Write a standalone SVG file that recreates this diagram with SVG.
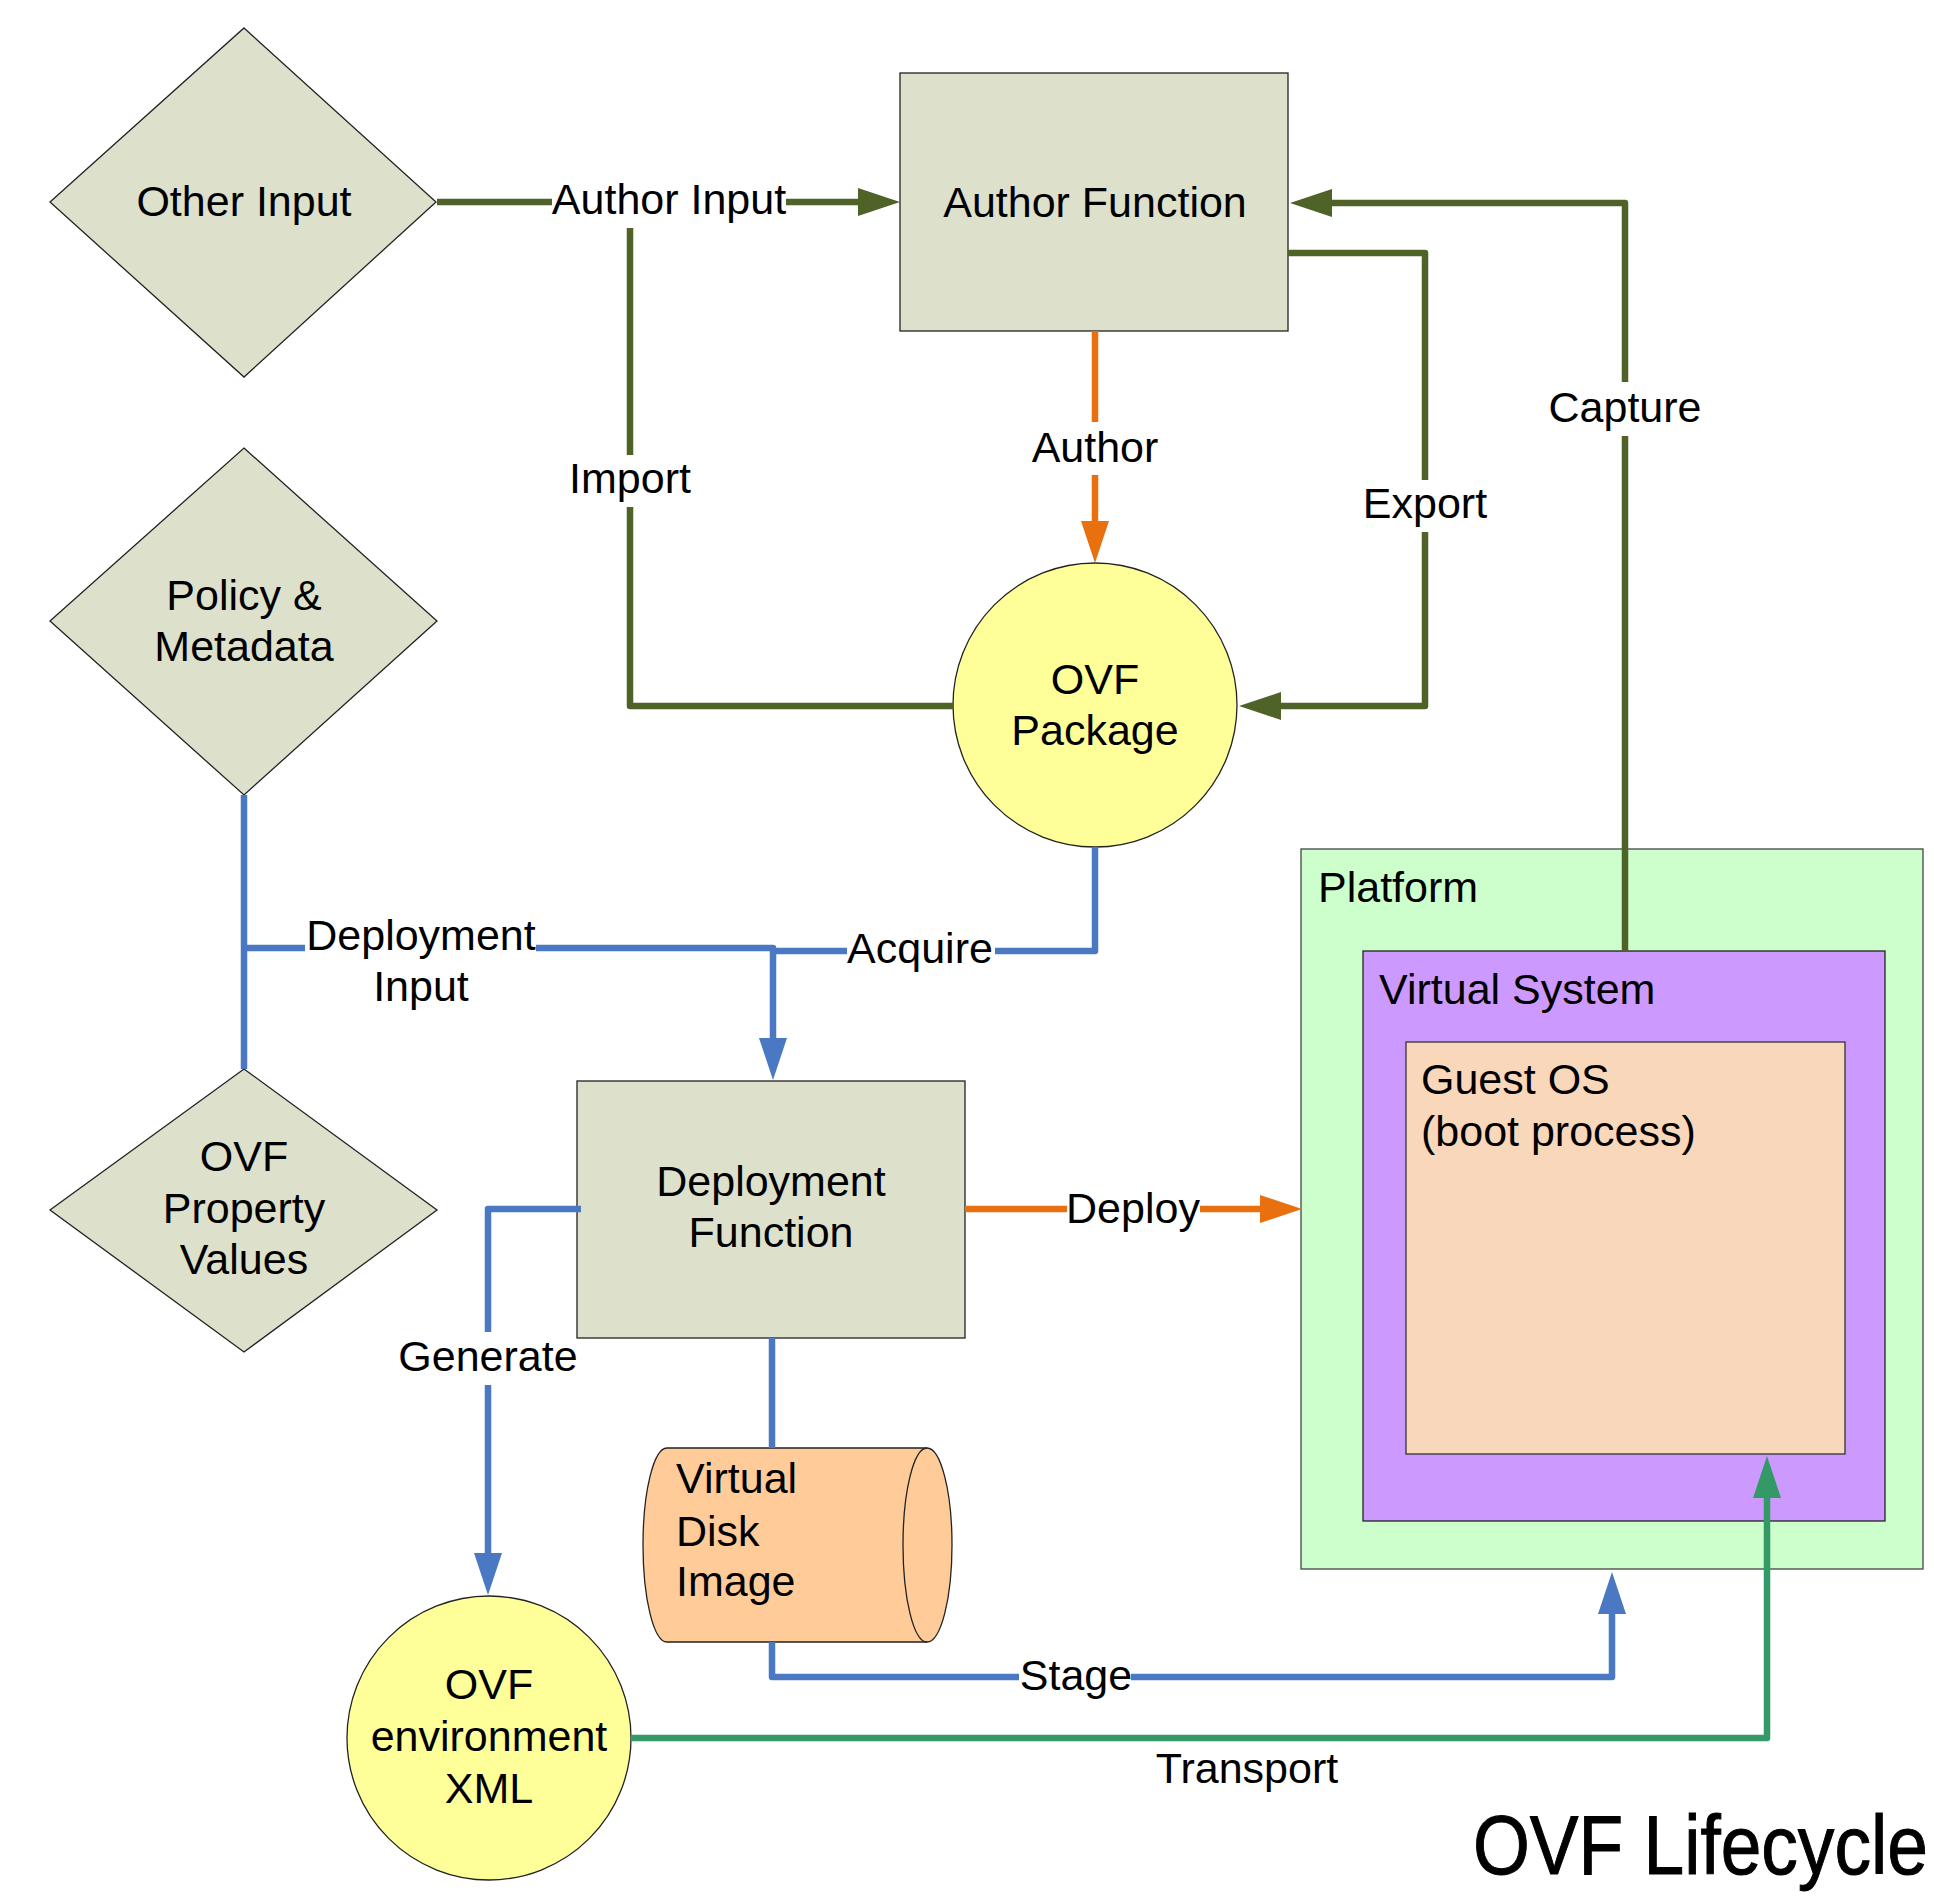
<svg xmlns="http://www.w3.org/2000/svg" width="1934" height="1896" viewBox="0 0 1934 1896">
<style>
text{font-family:"Liberation Sans",Arial,sans-serif;font-size:43px;fill:#000}
.c{text-anchor:middle}
.node{fill:#DDE1CB;stroke:#222;stroke-width:1.3}
.yel{fill:#FFFF99;stroke:#222;stroke-width:1.3}
.ln{fill:none;stroke-width:6.5;stroke-linejoin:round}
.ol{stroke:#4F6228}
.or{stroke:#E8700F}
.bl{stroke:#4A78C2}
.gr{stroke:#339966}
</style>
<defs>
<marker id="aOl" markerUnits="userSpaceOnUse" viewBox="0 0 42 28" refX="0" refY="14" markerWidth="42" markerHeight="28" orient="auto"><path d="M0,0 L42,14 L0,28 z" fill="#4F6228"/></marker>
<marker id="aOr" markerUnits="userSpaceOnUse" viewBox="0 0 42 28" refX="0" refY="14" markerWidth="42" markerHeight="28" orient="auto"><path d="M0,0 L42,14 L0,28 z" fill="#E8700F"/></marker>
<marker id="aBl" markerUnits="userSpaceOnUse" viewBox="0 0 42 28" refX="0" refY="14" markerWidth="42" markerHeight="28" orient="auto"><path d="M0,0 L42,14 L0,28 z" fill="#4A78C2"/></marker>
<marker id="aGr" markerUnits="userSpaceOnUse" viewBox="0 0 42 28" refX="0" refY="14" markerWidth="42" markerHeight="28" orient="auto"><path d="M0,0 L42,14 L0,28 z" fill="#339966"/></marker>
</defs>
<rect width="1934" height="1896" fill="#fff"/>

<g id="platform">
<rect x="1301" y="849" width="622" height="720" fill="#CCFFCC" stroke="#444" stroke-width="1.3"/>
<text x="1318" y="902">Platform</text>
</g>
<g id="virtual-system">
<rect x="1363" y="951" width="522" height="570" fill="#CC99FF" stroke="#222" stroke-width="1.3"/>
<text x="1379" y="1004">Virtual System</text>
</g>
<g id="guest-os">
<rect x="1406" y="1042" width="439" height="412" fill="#F9D7BA" stroke="#333" stroke-width="1.3"/>
<text x="1421" y="1094">Guest OS</text>
<text x="1421" y="1146">(boot process)</text>
</g>

<g id="other-input">
<polygon class="node" points="244,28 436,202 244,377 50,202"/>
<text class="c" x="244" y="216">Other Input</text>
</g>
<g id="author-function">
<rect class="node" x="900" y="73" width="388" height="258"/>
<text class="c" x="1095" y="217">Author Function</text>
</g>
<g id="ovf-package">
<circle class="yel" cx="1095" cy="705" r="142"/>
<text class="c" x="1095" y="694">OVF</text>
<text class="c" x="1095" y="745">Package</text>
</g>
<g id="policy-metadata">
<polygon class="node" points="244,448 437,621 244,795 50,621"/>
<text class="c" x="244" y="610">Policy &amp;</text>
<text class="c" x="244" y="661">Metadata</text>
</g>
<g id="ovf-property-values">
<polygon class="node" points="244,1069 437,1210 244,1352 50,1210"/>
<text class="c" x="244" y="1171">OVF</text>
<text class="c" x="244" y="1223">Property</text>
<text class="c" x="244" y="1274">Values</text>
</g>
<g id="deployment-function">
<rect class="node" x="577" y="1081" width="388" height="257"/>
<text class="c" x="771" y="1196">Deployment</text>
<text class="c" x="771" y="1247">Function</text>
</g>
<g id="virtual-disk-image">
<path d="M667,1448 H927 A25,97 0 0 1 927,1642 H667 A24,97 0 0 1 667,1448 Z" fill="#FFCC99" stroke="#222" stroke-width="1.3"/>
<path d="M927,1448 A24,97 0 0 0 927,1642" fill="none" stroke="#222" stroke-width="1.3"/>
<text x="676" y="1493">Virtual</text>
<text x="676" y="1546">Disk</text>
<text x="676" y="1596">Image</text>
</g>
<g id="ovf-environment-xml">
<circle class="yel" cx="489" cy="1738" r="142"/>
<text class="c" x="489" y="1699">OVF</text>
<text class="c" x="489" y="1751">environment</text>
<text class="c" x="489" y="1803">XML</text>
</g>

<g id="connectors">
<path class="ln ol" d="M437,202 H552"/>
<path class="ln ol" d="M786,202 H858" marker-end="url(#aOl)"/>
<path class="ln ol" d="M954,706 H630 V507"/>
<path class="ln ol" d="M630,455 V228"/>
<path class="ln ol" d="M1288,253 H1425 V480"/>
<path class="ln ol" d="M1425,532 V706 H1281" marker-end="url(#aOl)"/>
<path class="ln ol" d="M1625,951 V436"/>
<path class="ln ol" d="M1625,382 V203 H1332" marker-end="url(#aOl)"/>
<path class="ln or" d="M1095,331 V422"/>
<path class="ln or" d="M1095,475 V521" marker-end="url(#aOr)"/>
<path class="ln or" d="M965,1209 H1067"/>
<path class="ln or" d="M1200,1209 H1260" marker-end="url(#aOr)"/>
<path class="ln bl" d="M244,795 V1069"/>
<path class="ln bl" d="M244,948 H305"/>
<path class="ln bl" d="M536,948 H773 V1038" marker-end="url(#aBl)"/>
<path class="ln bl" d="M1095,847 V951 H995"/>
<path class="ln bl" d="M847,951 H773"/>
<path class="ln bl" d="M581,1209 H488 V1332"/>
<path class="ln bl" d="M488,1385 V1553" marker-end="url(#aBl)"/>
<path class="ln bl" d="M772,1338 V1448"/>
<path class="ln bl" d="M772,1642 V1677 H1019"/>
<path class="ln bl" d="M1131,1677 H1612 V1614" marker-end="url(#aBl)"/>
<path class="ln gr" d="M631,1738 H1767 V1498" marker-end="url(#aGr)"/>
</g>

<g id="labels">
<text class="c" x="669" y="214">Author Input</text>
<text class="c" x="630" y="493">Import</text>
<text class="c" x="1095" y="462">Author</text>
<text class="c" x="1425" y="518">Export</text>
<text class="c" x="1625" y="422">Capture</text>
<text class="c" x="421" y="950">Deployment</text>
<text class="c" x="421" y="1001">Input</text>
<text class="c" x="920" y="963">Acquire</text>
<text class="c" x="1133" y="1223">Deploy</text>
<text class="c" x="488" y="1371">Generate</text>
<text class="c" x="1076" y="1690">Stage</text>
<text class="c" x="1247" y="1783">Transport</text>
</g>
<text transform="translate(1473,1874) scale(0.87,1)" x="0" y="0" style="font-size:84px;stroke:#000;stroke-width:1">OVF Lifecycle</text>
</svg>
